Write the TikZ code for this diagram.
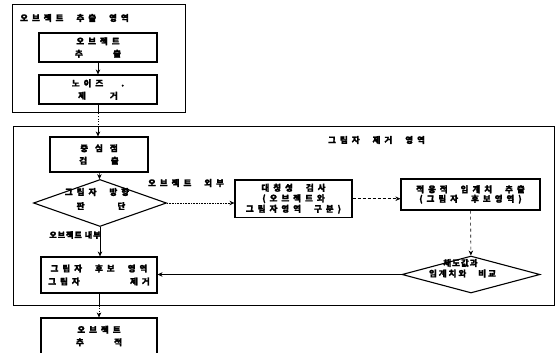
\documentclass[tikz,border=0pt]{standalone}
\usepackage{fontspec}
\newfontfamily\kr{Noto Sans CJK KR}[BoldFeatures={FakeBold=1.5}]
\usetikzlibrary{arrows.meta,shapes.geometric}
\newcommand\kg{\hspace{4pt}}
\newcommand\wg{\hspace{13pt}}
\begin{document}
\begin{tikzpicture}[x=1pt,y=-1pt,
 bx/.style={draw,line width=1.1pt,inner sep=0pt,align=center,font=\kr\bfseries\fontsize{8.5}{12.5}\selectfont},
 rg/.style={draw,line width=1pt,inner sep=0pt},
 lb/.style={inner sep=0pt,font=\kr\bfseries\fontsize{8.5}{12}\selectfont},
 dm/.style={draw,diamond,line width=1.1pt,inner sep=0pt},
 ar/.style={line width=0.6pt,-{Stealth[length=5pt,width=4.5pt]}},
 ln/.style={line width=0.6pt}]
\clip (0,0) rectangle (558,353);
\fill[white] (0,0) rectangle (558,353);
% regions
\node[rg,minimum width=173pt,minimum height=108pt] (r1) at (98.5,59) {};
\node[rg,minimum width=541pt,minimum height=178pt] (r2) at (283.5,216) {};
\node[lb,anchor=west] (l1) at (20,18) {오\kg 브\kg 젝\kg 트\wg 추\kg 출\wg 영\kg 역};
\node[lb,anchor=west] (l2) at (328,140) {그\kg 림\kg 자\wg 제\kg 거\wg 영\kg 역};
% boxes
\node[bx,minimum width=118pt,minimum height=29pt] (b1) at (98,47.5) {오\kg 브\kg 젝\kg 트\\\hbox to 46pt{추\hfill 출}};
\node[bx,minimum width=118pt,minimum height=29pt] (b2) at (98,89.5) {노\kg 이\kg 즈\hspace{18pt}.\\제\hspace{24pt}거};
\node[bx,minimum width=98pt,minimum height=35pt] (b3) at (99,154.5) {중\hspace{7pt}심\hspace{7pt}점\\\hbox to 39.5pt{검\hfill 출}};
\node[dm,minimum width=133pt,minimum height=47pt] (d1) at (100,203) {};
\node[lb] (d1a) at (97,192) {그\kg 림\kg 자\wg 방\kg 향};
\node[lb] (d1b) at (101,206) {판\hspace{33pt}단};
\node[lb] (lo) at (186,183) {오\kg 브\kg 젝\kg 트\wg 외\kg 부};
\node[lb,font=\kr\bfseries\fontsize{8}{10}\selectfont] (li) at (75,235) {오\hspace{1pt}브\hspace{1pt}젝\hspace{1pt}트\hspace{3pt}내\hspace{1pt}부};
\node[bx,font=\kr\bfseries\fontsize{8.5}{10.5}\selectfont,minimum width=117pt,minimum height=37.5pt] (b4) at (293.5,198.75) {대\kg 칭\kg 성\wg 검\kg 사\\(\kg 오\kg 브\kg 젝\kg 트\kg 와\\그\kg 림\kg 자\kg 영\kg 역\wg 구\kg 분\kg )};
\node[bx,font=\kr\bfseries\fontsize{8.5}{9.5}\selectfont,minimum width=139pt,minimum height=31pt] (b5) at (470.5,194.5) {적\kg 응\kg 적\wg 임\kg 계\kg 치\wg 추\kg 출\\(\kg 그\kg 림\kg 자\wg 후\kg 보\kg 영\kg 역\kg )};
\node[dm,minimum width=138pt,minimum height=37pt] (d2) at (471,274.5) {};
\node[lb] (d2a) at (460.5,263) {채\hspace{1pt}도\hspace{1pt}값\hspace{1pt}과};
\node[lb] (d2b) at (462.5,273.5) {임\hspace{2pt}계\hspace{2pt}치\hspace{2pt}와\hspace{12pt}비\hspace{2pt}교};
\node[bx,font=\kr\bfseries\fontsize{8.5}{13}\selectfont,minimum width=116pt,minimum height=36pt] (b6) at (99,275) {그\kg 림\kg 자\wg 후\kg 보\wg 영\kg 역\\\hbox to 101.5pt{그\kg 림\kg 자\hfill 제\kg 거}};
\node[bx,minimum width=116pt,minimum height=36pt] (b7) at (99,336) {오\kg 브\kg 젝\kg 트\\\hbox to 46pt{추\hfill 적}};
% connectors
\draw[ar] (b1) -- (b2);
\coordinate (c1) at (b2.south |- r1.south);
\coordinate (c2) at (b2.south |- r2.north);
\draw[ln] (b2.south) -- (c1);
\draw[ln,dotted] (c1) -- (c2);
\draw[ar] (c2) -- (c2 |- b3.north);
\draw[ar] (b3) -- (d1);
\draw[ar,densely dotted] (d1.east) -- (d1.east -| b4.west);
\draw[ar,densely dashed] (b4.east) -- (b4.east -| b5.west);
\draw[ar,dashed] (b5) -- (d2);
\draw[ar] (d2.west) -- (d2.west -| b6.east);
\draw[ar] (d1.south) -- (d1.south |- b6.north);
\coordinate (c3) at (b6.south |- r2.south);
\draw[ln] (b6.south) -- (c3);
\draw[ar,dotted] (c3) -- (b7.north);
\end{tikzpicture}
\end{document}
